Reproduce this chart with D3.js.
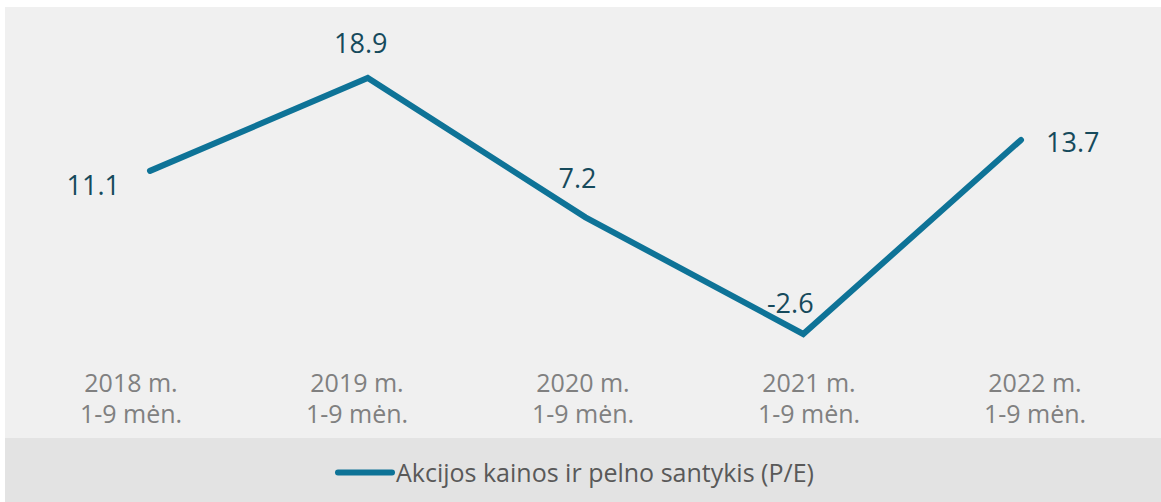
<!DOCTYPE html>
<html>
<head>
<meta charset="utf-8">
<script src="https://cdn.jsdelivr.net/npm/d3@7"></script>
<style>
    html, body { margin: 0; padding: 0; background: #ffffff; }
    svg { display: block; font-family: "Open Sans", "Noto Sans", sans-serif; }
</style>
</head>
<body>
<svg id="drawing_region"></svg>
<script>
// data
const categories = ['2018 m.\n1-9 mėn.', '2019 m.\n1-9 mėn.', '2020 m.\n1-9 mėn.', '2021 m.\n1-9 mėn.', '2022 m.\n1-9 mėn.'];
const peValues = [11.1, 18.9, 7.2, -2.6, 13.7];
const seriesName = 'Akcijos kainos ir pelno santykis (P/E)';

// where each value label sits relative to its point
const labelPlacement = [
    {anchor: 'end',    dx: -30, dy: 24},
    {anchor: 'middle', dx: -7,  dy: -25},
    {anchor: 'middle', dx: -8,  dy: -29},
    {anchor: 'middle', dx: -13, dy: -21},
    {anchor: 'start',  dx: 25,  dy: 12}
];

const config = {
    parent: '#drawing_region',
    width: 1161,
    height: 502,
    plot: {left: 5, top: 7, bottom: 438},
    lineX: [150, 1021],
    labelX: [131, 1035],
    lineY: [334, 78],
    colors: {plot: '#f0f0f0', legend: '#e3e3e3', line: '#0e7397', value: '#164a5c', axis: '#808080', legendText: '#595959'}
};

const svg = d3.select(config.parent)
    .attr('width', config.width)
    .attr('height', config.height);

// backgrounds
svg.append('rect')
    .attr('x', config.plot.left).attr('y', config.plot.top)
    .attr('width', config.width - config.plot.left)
    .attr('height', config.plot.bottom - config.plot.top)
    .attr('fill', config.colors.plot);

svg.append('rect')
    .attr('x', config.plot.left).attr('y', config.plot.bottom)
    .attr('width', config.width - config.plot.left)
    .attr('height', config.height - config.plot.bottom)
    .attr('fill', config.colors.legend);

// scales
const xscale = d3.scalePoint().domain(categories).range(config.lineX);
const xlabel = d3.scalePoint().domain(categories).range(config.labelX);
const yscale = d3.scaleLinear()
    .domain([d3.min(peValues), d3.max(peValues)])
    .range(config.lineY);

const data = categories.map((c, i) => ({cat: c, value: peValues[i], pos: labelPlacement[i]}));

// line
const line = d3.line()
    .x(d => xscale(d.cat))
    .y(d => yscale(d.value));

svg.append('path')
    .datum(data)
    .attr('d', line)
    .attr('fill', 'none')
    .attr('stroke', config.colors.line)
    .attr('stroke-width', 6)
    .attr('stroke-linejoin', 'miter')
    .attr('stroke-linecap', 'round');

// value labels
svg.selectAll('.value-label')
    .data(data)
    .enter()
    .append('text')
    .attr('class', 'value-label')
    .attr('x', d => xscale(d.cat) + d.pos.dx)
    .attr('y', d => yscale(d.value) + d.pos.dy)
    .attr('text-anchor', d => d.pos.anchor)
    .attr('font-size', 27)
    .attr('fill', config.colors.value)
    .text(d => d.value.toFixed(1));

// category labels
const cats = svg.selectAll('.cat-label')
    .data(categories)
    .enter()
    .append('text')
    .attr('class', 'cat-label')
    .attr('text-anchor', 'middle')
    .attr('font-size', 25)
    .attr('fill', config.colors.axis);

cats.selectAll('tspan')
    .data(d => d.split('\n').map(t => ({cat: d, t: t})))
    .enter()
    .append('tspan')
    .attr('x', d => xlabel(d.cat))
    .attr('y', (d, i) => 392 + i * 31)
    .text(d => d.t);

// legend
const legend = svg.append('g');
legend.append('line')
    .attr('x1', 338).attr('x2', 392)
    .attr('y1', 472.5).attr('y2', 472.5)
    .attr('stroke', config.colors.line)
    .attr('stroke-width', 6)
    .attr('stroke-linecap', 'round');
legend.append('text')
    .attr('x', 396)
    .attr('y', 481.5)
    .attr('font-size', 25)
    .attr('fill', config.colors.legendText)
    .text(seriesName);
</script>
</body>
</html>
